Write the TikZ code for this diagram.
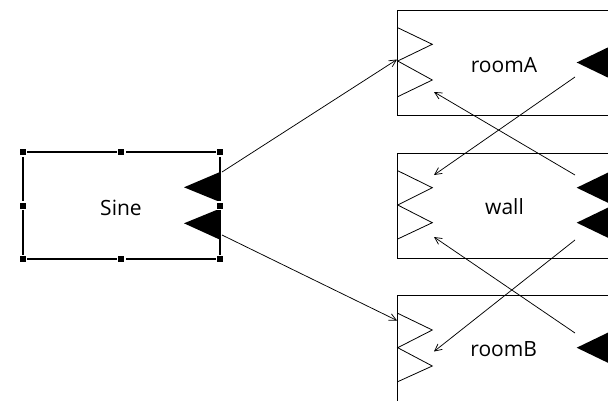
\documentclass[tikz,border=0pt]{standalone}
\usepackage{fontspec}
\setmainfont{Open Sans}
\usetikzlibrary{arrows.meta}
\begin{document}
\begin{tikzpicture}[x=1pt,y=-1pt,
  roombox/.style={draw, line width=0.8pt, inner sep=0pt, outer sep=0pt, minimum width=216pt, minimum height=105pt, anchor=north west},
  sinebox/.style={draw, line width=1.8pt, inner sep=0pt, outer sep=0pt, minimum width=197.3pt, minimum height=106.7pt, anchor=north west},
  handle/.style={fill=black, draw=white, line width=1.6pt, minimum size=7.4pt, inner sep=0pt, outer sep=0pt},
  lbl/.style={font=\fontsize{21}{25}\selectfont, anchor=base, inner sep=0pt, text=black},
  inport/.style={line width=0.8pt, line join=miter},
  outport/.style={fill=black},
  conn/.style={line width=0.75pt, -{Straight Barb[length=7pt,width=7pt]}}
]
\fill[white] (0,0) rectangle (608,400);
\useasboundingbox (0,0) rectangle (608,400);
\clip (0,0) rectangle (608,400);

% boxes
\node[sinebox] (sine) at (22.7,152.3) {};
\node[roombox] (roomA) at (397.7,10.7) {};
\node[roombox] (wall) at (397.7,153.3) {};
\node[roombox, minimum height=112pt] (roomB) at (397.7,295) {};

% labels
\node[lbl] (sineL) at (121,215) {Sine};
\node[lbl] (roomAL) at (504,72.3) {roomA};
\node[lbl] (wallL) at (504.5,214) {wall};
\node[lbl] (roomBL) at (503.7,356.7) {roomB};

% input ports (open zigzags)
\draw[inport] (397.7,27.7) -- (432.3,44.3) -- (397.7,61) -- (432.3,80) -- (397.7,96.7);
\draw[inport] (397.7,170.7) -- (432.3,187.7) -- (397.7,205) -- (432.3,222.7) -- (397.7,239);
\draw[inport] (397.7,313.3) -- (432.3,330) -- (397.7,347.7) -- (432.3,366) -- (397.7,381.7);

% output ports (filled triangles)
\fill[outport] (220.7,171.7) -- (184,187.3) -- (220.7,202.3) -- cycle;
\fill[outport] (220.7,208.3) -- (184,223.3) -- (220.7,240) -- cycle;
\fill[outport] (614,44.5) -- (576.7,62.5) -- (614,80.5) -- cycle;
\fill[outport] (614,169.7) -- (576.7,187.7) -- (614,205.7) -- cycle;
\fill[outport] (614,204.7) -- (576.7,222.7) -- (614,240.7) -- cycle;
\fill[outport] (614,329.7) -- (576.7,347.7) -- (614,365.7) -- cycle;

% selection handles on Sine
\foreach \n/\x/\y in {h1/22.7/152.3, h2/121.3/152.3, h3/220/152.3, h4/22.7/205.7, h5/220/205.7, h6/22.7/259, h7/121.3/259, h8/220/259}
  \node[handle] (\n) at (\x,\y) {};

% connector end points
\coordinate (sineO1) at (222,172);
\coordinate (sineO2) at (222,235);
\coordinate (roomAI1) at (397,59.5);
\coordinate (roomAI2) at (434,92);
\coordinate (roomAO) at (575,77);
\coordinate (wallI1) at (434,175);
\coordinate (wallI2) at (434,237);
\coordinate (wallO1) at (575,175);
\coordinate (wallO2) at (575,240);
\coordinate (roomBI1) at (397,320.5);
\coordinate (roomBI2) at (434,351.5);
\coordinate (roomBO) at (575,333);

% connectors
\draw[conn] (sineO1) -- (roomAI1);
\draw[conn] (sineO2) -- (roomBI1);
\draw[conn] (roomAO) -- (wallI1);
\draw[conn] (wallO1) -- (roomAI2);
\draw[conn] (wallO2) -- (roomBI2);
\draw[conn] (roomBO) -- (wallI2);
\end{tikzpicture}
\end{document}
